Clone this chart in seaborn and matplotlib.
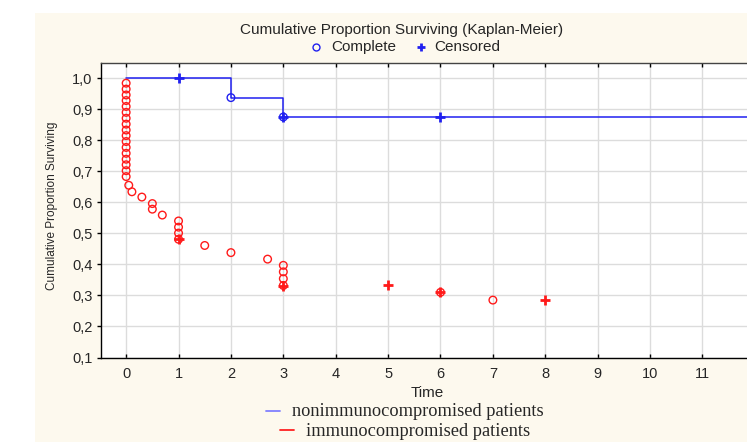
import matplotlib
matplotlib.use("Agg")
import matplotlib.pyplot as plt
import seaborn as sns
import pandas as pd
from matplotlib.patches import Rectangle
from matplotlib.lines import Line2D
from matplotlib.ticker import FuncFormatter

# ---- data ----
non_step_time = [0, 2, 3, 13]
non_step_surv = [1.0, 0.9375, 0.875, 0.875]
non_complete_time = [2, 3]
non_complete_surv = [0.9375, 0.875]
non_censored_time = [1, 3, 6]
non_censored_surv = [1.0, 0.875, 0.875]

imm_complete_time = [0, 0, 0, 0, 0, 0, 0, 0, 0, 0, 0, 0, 0, 0, 0, 0, 0,
                     0.05, 0.11, 0.30, 0.50, 0.50, 0.69, 1, 1, 1, 1,
                     1.5, 2.0, 2.7, 3, 3, 3, 3, 6, 7]
imm_complete_surv = [0.984, 0.965, 0.946, 0.928, 0.909, 0.890, 0.871, 0.852,
                     0.833, 0.815, 0.796, 0.777, 0.758, 0.739, 0.721, 0.702,
                     0.683, 0.655, 0.634, 0.617, 0.596, 0.578, 0.559, 0.540,
                     0.520, 0.501, 0.481, 0.461, 0.438, 0.417, 0.397, 0.376,
                     0.354, 0.332, 0.310, 0.285]
imm_censored_time = [1, 3, 5, 6, 8]
imm_censored_surv = [0.481, 0.332, 0.333, 0.310, 0.285]

x_ticks = list(range(0, 13))
y_ticks = [0.1, 0.2, 0.3, 0.4, 0.5, 0.6, 0.7, 0.8, 0.9, 1.0]

title_text = "Cumulative Proportion Surviving (Kaplan-Meier)"
legend_complete = "Complete"
legend_censored = "Censored"
y_label = "Cumulative Proportion Surviving"
x_label = "Time"
group_names = ["nonimmunocompromised patients", "immunocompromised patients"]

# ---- style ----
sns.set_theme(style="white")
plt.rcParams["font.family"] = ["Liberation Sans", "DejaVu Sans"]

W, H = 747, 442
fig = plt.figure(figsize=(W / 100, H / 100), dpi=100)
fig.patch.set_facecolor("white")
fig.add_artist(Rectangle((35 / W, 0), 1, (H - 13) / H, transform=fig.transFigure,
                         facecolor="#fdf9ee", edgecolor="none", zorder=-10))

ax = fig.add_axes([101 / W, 1 - 357.5 / H, 679 / W, (357.5 - 62.7) / H])
ax.set_facecolor("white")

blue = "#2020f0"
red = "#ff1a1a"

sns.lineplot(x=non_step_time, y=non_step_surv, ax=ax, estimator=None, sort=False,
             drawstyle="steps-post", color=blue, lw=1.1, zorder=3)
sns.scatterplot(x=imm_complete_time, y=imm_complete_surv, ax=ax, marker="o", s=30,
                facecolor="none", edgecolor=red, linewidth=1.0, zorder=4)
sns.scatterplot(x=imm_censored_time, y=imm_censored_surv, ax=ax, marker="+", s=55,
                color=red, linewidth=2.0, zorder=5)
sns.scatterplot(x=non_complete_time, y=non_complete_surv, ax=ax, marker="o", s=30,
                facecolor="none", edgecolor=blue, linewidth=1.0, zorder=4)
sns.scatterplot(x=non_censored_time, y=non_censored_surv, ax=ax, marker="+", s=55,
                color=blue, linewidth=2.0, zorder=5)

ax.set_xlim(-0.48, 12.48)
ax.set_ylim(0.1, 1.05)
ax.set_xticks(x_ticks)
ax.set_yticks(y_ticks)
ax.yaxis.set_major_formatter(FuncFormatter(lambda v, p: f"{v:.1f}".replace(".", ",")))
ax.grid(True, color="#dcdcdc", lw=1.0, zorder=0)
ax.set_axisbelow(True)
for s in ["left", "bottom", "top", "right"]:
    ax.spines[s].set_color("black")
    ax.spines[s].set_linewidth(1.0)
ax.spines["top"].set_color("#444444")
ax.tick_params(axis="x", direction="in", length=3, width=1, color="black",
               labelsize=10.5, pad=7, top=True, bottom=True)
ax.tick_params(axis="y", direction="out", length=3, width=1, color="black",
               labelsize=10.5, pad=3, left=True)
ax.set_xlabel("")
ax.set_ylabel("")

# axis labels
fig.text(52 / W, 1 - 206 / H, y_label, rotation=90, ha="center", va="center",
         fontsize=8.5)
fig.text(427 / W, 1 - 393 / H, x_label, ha="center", va="center", fontsize=11)

# top title and marker legend
fig.text(402 / W, 1 - 30 / H, title_text, ha="center", va="center", fontsize=11)
fig.add_artist(Line2D([316 / W], [1 - 47 / H], transform=fig.transFigure,
                      marker="o", ms=5, mfc="none", mec=blue, mew=1.0, ls=""))
fig.text(331 / W, 1 - 47 / H, legend_complete, ha="left", va="center", fontsize=11)
fig.add_artist(Line2D([421 / W], [1 - 47 / H], transform=fig.transFigure,
                      marker="+", ms=6, mec=blue, mew=2.0, ls=""))
fig.text(434 / W, 1 - 47 / H, legend_censored, ha="left", va="center", fontsize=11)

# bottom group legend
fig.add_artist(Line2D([266 / W, 280 / W], [1 - 410.7 / H, 1 - 410.7 / H],
                      transform=fig.transFigure, color="#8080ff", lw=1.3))
fig.text(292 / W, 1 - 412 / H, group_names[0], ha="left", va="center",
         fontsize=13.2, family=["Liberation Serif", "DejaVu Serif"])
fig.add_artist(Line2D([280 / W, 294 / W], [1 - 429.7 / H, 1 - 429.7 / H],
                      transform=fig.transFigure, color="#ff2020", lw=1.3))
fig.text(306 / W, 1 - 432 / H, group_names[1], ha="left", va="center",
         fontsize=13.2, family=["Liberation Serif", "DejaVu Serif"])

fig.savefig("out.png", dpi=100)
